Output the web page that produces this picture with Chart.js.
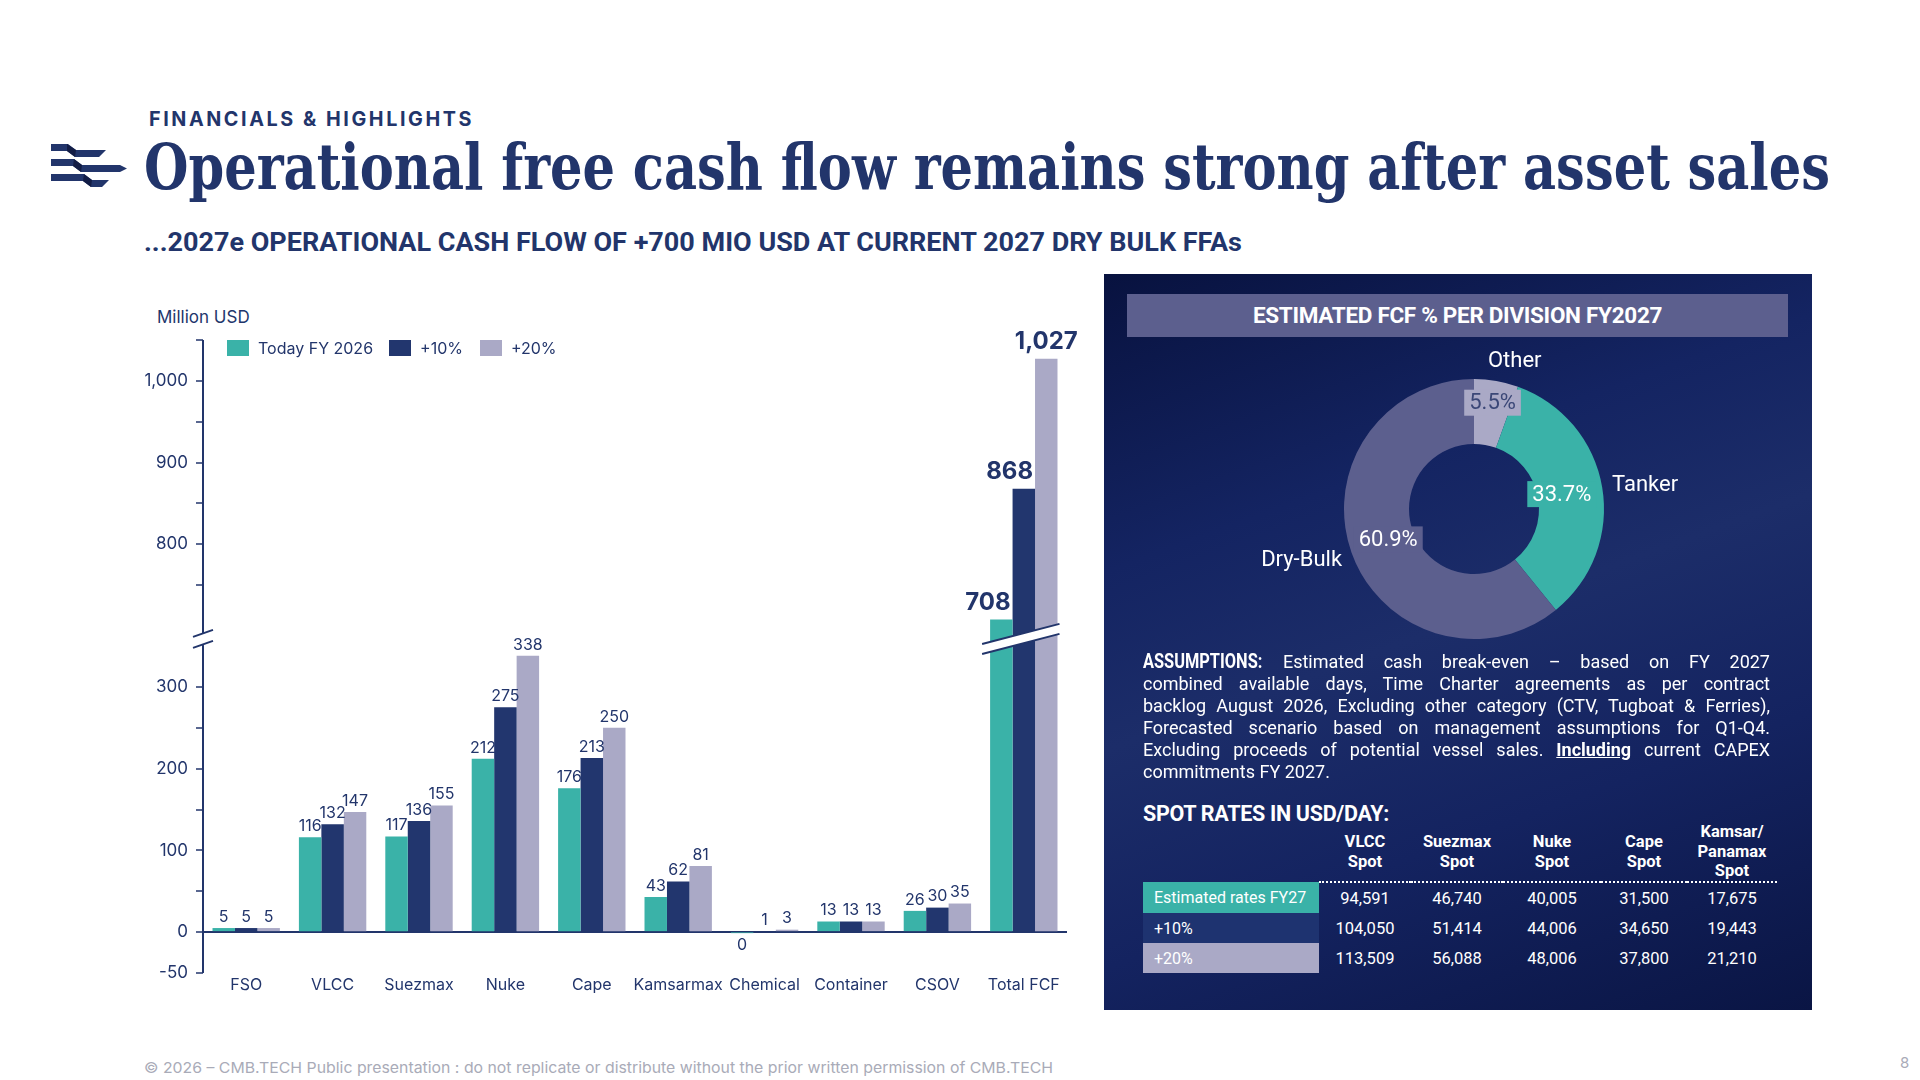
<!DOCTYPE html>
<html>
<head>
<meta charset="utf-8">
<title>Operational free cash flow remains strong after asset sales</title>
<script src="https://cdn.jsdelivr.net/npm/chart.js@4.4.1/dist/chart.umd.min.js"></script>
<style>
  html, body { margin: 0; padding: 0; }
  body { width: 1920px; height: 1080px; position: relative; overflow: hidden; background: #fff; color: #22356b; font-family: Inter, sans-serif; }
  .abs { position: absolute; white-space: nowrap; transform-origin: left top; }
  #kicker { left: 149px; top: 107px; font: 700 20px Inter; letter-spacing: 2.6px; line-height: 24px; }
  #title { left: 144px; top: 134px; font: 700 64px 'DejaVu Serif', serif; line-height: 66px; }
  #subtitle { left: 144px; top: 228px; font: 700 25px Roboto; line-height: 30px; }
  #unit { left: 157px; top: 306px; font: 400 17px Inter; line-height: 22px; }
  #legend { left: 227px; top: 339px; font: 400 16px Inter; line-height: 18px; display: flex; align-items: center; }
  #legend .sw { width: 22px; height: 16px; display: inline-block; margin-right: 9px; }
  #legend .it { display: flex; align-items: center; }
  #footer { left: 144px; top: 1058px; font: 400 15px Inter; color: #a9abb8; line-height: 20px; }
  #page { left: 1900px; top: 1053px; font: 400 15px Inter; color: #a9abb8; }
  #fcfChart { position: absolute; left: 130px; top: 300px; }
  #panel { position: absolute; left: 1104px; top: 274px; width: 708px; height: 736px;
    background: linear-gradient(160deg, #08123f 0%, #142462 30%, #1c2d69 48%, #142360 70%, #0a1544 100%); color: #fff; font-family: Roboto, sans-serif; }
  #panelHead { position: absolute; left: 23px; top: 20px; width: 661px; height: 43px; background: #5c5f8e;
    font: 700 22.5px Roboto; line-height: 43px; text-align: center; letter-spacing: -0.3px; }
  #divisionChart { position: absolute; left: 90px; top: 70px; }
  #assume { position: absolute; left: 39px; top: 377px; width: 627px; font: 400 18px Roboto; line-height: 22px; }
  #assume span { display: block; text-align: justify; text-align-last: justify; white-space: nowrap; }
  #assume span.last { text-align-last: left; }
  #assume .lead { font-weight: 700; font-size: 19.5px; display: inline-block; transform: scaleX(0.84); transform-origin: left center; margin-right: -22px; }
  #spotTitle { position: absolute; left: 39px; top: 527px; font: 700 21.5px Roboto; line-height: 26px; letter-spacing: -0.3px; }
  #spot { position: absolute; left: 39px; top: 548px; border-collapse: collapse; font: 400 16.5px Roboto; }
  #spot td, #spot th { padding: 0; text-align: center; }
  #spot th { font-weight: 700; font-size: 16.5px; line-height: 19.5px; vertical-align: middle; height: 59px; border-bottom: 2px dotted #fff; }
  #spot th.blank { border-bottom: none; }
  #spot td { height: 30px; }
  #spot td.lab { text-align: left; padding-left: 11px; width: 165px; font-size: 16px; }
</style>
</head>
<body>

<svg class="abs" style="left:50px;top:143px" width="80" height="46" viewBox="50 143 80 46">
  <polygon fill="#22356b" points="51,144 68,144 76,150 106,150 99,157 75,157 67,151 51,151"/>
  <polygon fill="#22356b" points="51,159 74,159 82,165 120,165 127,168.5 120,172 81,172 73,166 51,166"/>
  <polygon fill="#22356b" points="51,174 84,174 92,180 109,180 102,187 91,187 83,181 51,181"/>
  <polygon fill="#121c45" points="67,144 76,150 75,157 67,151"/>
  <polygon fill="#121c45" points="74,159 82,165 81,172 73,166"/>
  <polygon fill="#121c45" points="84,174 92,180 91,187 83,181"/>
</svg>

<div id="kicker" class="abs">FINANCIALS &amp; HIGHLIGHTS</div>
<div id="title" class="abs">Operational free cash flow remains strong after asset sales</div>
<div id="subtitle" class="abs">...2027e OPERATIONAL CASH FLOW OF +700 MIO USD AT CURRENT 2027 DRY BULK FFAs</div>

<div id="unit" class="abs">Million USD</div>
<canvas id="fcfChart" width="950" height="710"></canvas>
<div id="legend" class="abs"></div>

<div id="panel">
  <div id="panelHead">ESTIMATED FCF % PER DIVISION FY2027</div>
  <canvas id="divisionChart" width="560" height="330"></canvas>
  <div id="assume">
    <span><b class="lead">ASSUMPTIONS:</b> Estimated cash break-even – based on FY 2027</span>
    <span>combined available days, Time Charter agreements as per contract</span>
    <span>backlog August 2026, Excluding other category (CTV, Tugboat &amp; Ferries),</span>
    <span>Forecasted scenario based on management assumptions for Q1-Q4.</span>
    <span>Excluding proceeds of potential vessel sales. <b><u>Including</u></b> current CAPEX</span>
    <span class="last">commitments FY 2027.</span>
  </div>
  <div id="spotTitle">SPOT RATES IN USD/DAY:</div>
  <table id="spot"></table>
</div>

<div id="footer" class="abs">© 2026 – CMB.TECH Public presentation : do not replicate or distribute without the prior written permission of CMB.TECH</div>
<div id="page" class="abs">8</div>

<script>
// bar chart data (Million USD)
const categories = ['FSO', 'VLCC', 'Suezmax', 'Nuke', 'Cape', 'Kamsarmax', 'Chemical', 'Container', 'CSOV', 'Total FCF'];
const seriesNames = ['Today FY 2026', '+10%', '+20%'];
const todayFY2026 = [5, 116, 117, 212, 176, 43, -0.3, 13, 26, 708];
const plus10 = [5, 132, 136, 275, 213, 62, 1, 13, 30, 868];
const plus20 = [5, 147, 155, 338, 250, 81, 3, 13, 35, 1027];
const yTicks = [-50, 0, 50, 100, 150, 200, 250, 300, 750, 800, 850, 900, 950, 1000, 1050];
const yTickLabels = [-50, 0, 100, 200, 300, 800, 900, 1000];

// doughnut data (% of FCF FY2027)
const divisions = ['Other', 'Tanker', 'Dry-Bulk'];
const divisionShare = [5.5, 33.7, 60.9];

// spot rates table (USD/day)
const spotHeaders = [['VLCC', 'Spot'], ['Suezmax', 'Spot'], ['Nuke', 'Spot'], ['Cape', 'Spot'], ['Kamsar/', 'Panamax', 'Spot']];
const spotRowNames = ['Estimated rates FY27', '+10%', '+20%'];
const spotEstimated = [94591, 46740, 40005, 31500, 17675];
const spotPlus10 = [104050, 51414, 44006, 34650, 19443];
const spotPlus20 = [113509, 56088, 48006, 37800, 21210];

const NAVY = '#22356b';
const seriesColors = ['#3ab2a8', '#22366e', '#aaa9c6'];
const divisionColors = ['#aaa9c6', '#3ab2a8', '#5c5f8e'];

Chart.defaults.font.family = 'Inter';
Chart.defaults.color = NAVY;

// linear scale with a gap between brk.low and brk.high
class BrokenLinearScale extends Chart.LinearScale {
    _brk() {
        const b = this.options.brk;
        const lowSpan = b.low - this.min, highSpan = this.max - b.high;
        const unit = (this.bottom - this.top - b.gap) / (lowSpan + highSpan);
        return { b: b, unit: unit, pLow: this.bottom - lowSpan * unit, pHigh: this.top + highSpan * unit };
    }
    getPixelForValue(value) {
        if (value === null || value === undefined || isNaN(value)) return NaN;
        const k = this._brk();
        if (value <= k.b.low) return this.bottom - (value - this.min) * k.unit;
        if (value >= k.b.high) return this.top + (this.max - value) * k.unit;
        return k.pLow + (value - k.b.low) / (k.b.high - k.b.low) * (k.pHigh - k.pLow);
    }
    getValueForPixel(pixel) {
        const k = this._brk();
        if (pixel >= k.pLow) return this.min + (this.bottom - pixel) / k.unit;
        if (pixel <= k.pHigh) return this.max - (pixel - this.top) / k.unit;
        return k.b.low + (k.pLow - pixel) / (k.pLow - k.pHigh) * (k.b.high - k.b.low);
    }
}
BrokenLinearScale.id = 'brokenLinear';
BrokenLinearScale.defaults = Chart.LinearScale.defaults;
Chart.register(BrokenLinearScale);

function fmt(v) { return (Math.round(v) + 0).toLocaleString('en-US'); }

// axis line with break marks + white band across the Total FCF bars
const axisBreak = {
    id: 'axisBreak',
    afterDatasetsDraw(chart) {
        const ctx = chart.ctx, y = chart.scales.y, area = chart.chartArea;
        const brk = y.options.brk;
        const pHigh = y.getPixelForValue(brk.high), pLow = y.getPixelForValue(brk.low);
        const ax = area.left;
        ctx.save();
        ctx.strokeStyle = NAVY;
        ctx.lineWidth = 2;
        ctx.beginPath();
        ctx.moveTo(ax, area.top); ctx.lineTo(ax, pHigh);
        ctx.moveTo(ax, pLow); ctx.lineTo(ax, area.bottom);
        [pHigh, pLow].forEach(p => { ctx.moveTo(ax - 10, p + 3.5); ctx.lineTo(ax + 10, p - 3.5); });
        ctx.stroke();

        // band over last category
        const last = categories.length - 1;
        const first = chart.getDatasetMeta(0).data[last], end = chart.getDatasetMeta(2).data[last];
        const x0 = first.x - first.width / 2 - 8, x1 = end.x + end.width / 2 + 2;
        const xm = (x0 + x1) / 2, ym = (pHigh + pLow) / 2, slope = -0.26, half = 5;
        const yAt = (x, off) => ym + (x - xm) * slope + off;
        ctx.fillStyle = '#fff';
        ctx.beginPath();
        ctx.moveTo(x0, yAt(x0, -half)); ctx.lineTo(x1, yAt(x1, -half));
        ctx.lineTo(x1, yAt(x1, half)); ctx.lineTo(x0, yAt(x0, half));
        ctx.closePath();
        ctx.fill();
        ctx.beginPath();
        ctx.moveTo(x0, yAt(x0, -half)); ctx.lineTo(x1, yAt(x1, -half));
        ctx.moveTo(x0, yAt(x0, half)); ctx.lineTo(x1, yAt(x1, half));
        ctx.stroke();
        ctx.restore();
    }
};

const barValues = {
    id: 'barValues',
    afterDatasetsDraw(chart) {
        const ctx = chart.ctx;
        const last = categories.length - 1;
        ctx.save();
        ctx.fillStyle = NAVY;
        chart.data.datasets.forEach((ds, di) => {
            chart.getDatasetMeta(di).data.forEach((bar, i) => {
                const v = ds.data[i];
                if (i === last) {
                    // big totals: keep the first two clear of the taller neighbour bar
                    ctx.font = '700 24px Inter';
                    ctx.textBaseline = 'bottom';
                    if (di < 2) { ctx.textAlign = 'right'; ctx.fillText(fmt(v), bar.x + bar.width / 2 - 2, bar.y - 5); }
                    else { ctx.textAlign = 'center'; ctx.fillText(fmt(v), bar.x, bar.y - 5); }
                    return;
                }
                ctx.font = '400 16px Inter';
                ctx.textAlign = 'center';
                if (v < 0) { ctx.textBaseline = 'top'; ctx.fillText(fmt(v), bar.x, bar.y + 5); }
                else { ctx.textBaseline = 'bottom'; ctx.fillText(fmt(v), bar.x, bar.y - 3); }
            });
        });
        ctx.restore();
    }
};

new Chart(document.getElementById('fcfChart'), {
    type: 'bar',
    data: {
        labels: categories,
        datasets: [todayFY2026, plus10, plus20].map((d, i) => ({
            label: seriesNames[i], data: d, backgroundColor: seriesColors[i],
            categoryPercentage: 0.78, barPercentage: 1.0
        }))
    },
    options: {
        responsive: false,
        animation: false,
        layout: { padding: { top: 40, right: 13, left: 0, bottom: 0 } },
        plugins: { legend: { display: false }, tooltip: { enabled: false } },
        scales: {
            x: {
                grid: { display: false },
                border: { display: false },
                ticks: { color: NAVY, font: { size: 16 }, padding: -5, autoSkip: false, maxRotation: 0, minRotation: 0 },
                afterFit: s => { s.height = 37; }
            },
            y: {
                type: 'brokenLinear',
                min: -50, max: 1050,
                brk: { low: 352, high: 691, gap: 11 },
                afterBuildTicks: s => { s.ticks = yTicks.map(v => ({ value: v })); },
                afterFit: s => { s.width = 73; },
                border: { display: false },
                grid: {
                    drawTicks: true, tickLength: 7, tickWidth: 1.5, tickColor: NAVY,
                    color: c => (c.tick && c.tick.value === 0) ? NAVY : 'rgba(0,0,0,0)',
                    lineWidth: c => (c.tick && c.tick.value === 0) ? 2 : 0
                },
                ticks: {
                    color: NAVY, font: { size: 17 }, padding: 8, autoSkip: false,
                    callback: v => yTickLabels.includes(v) ? v.toLocaleString('en-US') : ''
                }
            }
        }
    },
    plugins: [axisBreak, barValues]
});

// legend
const legendEl = document.getElementById('legend');
seriesNames.forEach((n, i) => {
    const it = document.createElement('span');
    it.className = 'it';
    it.style.marginRight = i === 0 ? '16px' : '17px';
    it.innerHTML = '<span class="sw" style="background:' + seriesColors[i] + '"></span>' + n;
    legendEl.appendChild(it);
});

// doughnut labels: percentage boxes inside the ring, division names outside
const donutLabels = {
    id: 'donutLabels',
    afterDatasetsDraw(chart, args, opts) {
        const ctx = chart.ctx;
        const ds = chart.data.datasets[0];
        ctx.save();
        chart.getDatasetMeta(0).data.forEach((arc, i) => {
            const mid = (arc.startAngle + arc.endAngle) / 2;
            const cos = Math.cos(mid), sin = Math.sin(mid);
            const r = arc.innerRadius + (arc.outerRadius - arc.innerRadius) * opts.depth[i];
            const px = arc.x + cos * r, py = arc.y + sin * r;
            const txt = ds.data[i].toFixed(1) + '%';
            ctx.font = '400 22px Roboto';
            const w = ctx.measureText(txt).width + 10;
            ctx.fillStyle = ds.backgroundColor[i];
            ctx.fillRect(px - w / 2, py - 13, w, 26);
            ctx.fillStyle = i === 0 ? '#3b4777' : '#fff';
            ctx.textAlign = 'center';
            ctx.textBaseline = 'middle';
            ctx.fillText(txt, px, py + 1);

            ctx.fillStyle = '#fff';
            if (Math.abs(cos) < 0.3) {
                const ro = arc.outerRadius + 20;
                ctx.textAlign = 'center';
                ctx.fillText(chart.data.labels[i], arc.x + cos * ro + 15, arc.y + sin * ro);
            } else {
                const ro = arc.outerRadius + 10;
                ctx.textAlign = cos > 0 ? 'left' : 'right';
                ctx.fillText(chart.data.labels[i], arc.x + cos * ro, arc.y + sin * ro + (cos > 0 ? 0 : 5));
            }
        });
        ctx.restore();
    }
};

new Chart(document.getElementById('divisionChart'), {
    type: 'doughnut',
    data: {
        labels: divisions,
        datasets: [{ data: divisionShare, backgroundColor: divisionColors, borderWidth: 0 }]
    },
    options: {
        responsive: false,
        animation: false,
        cutout: '50%',
        layout: { padding: 35 },
        plugins: { legend: { display: false }, tooltip: { enabled: false }, donutLabels: { depth: [0.66, 0.37, 0.4] } }
    },
    plugins: [donutLabels]
});

// spot rates table
const spot = document.getElementById('spot');
const colW = [92, 92, 98, 86, 90];
let html = '<tr><th class="blank" style="width:176px"></th>';
spotHeaders.forEach((h, i) => { html += '<th style="width:' + colW[i] + 'px">' + h.join('<br>') + '</th>'; });
html += '</tr>';
const rowBg = ['#3ab2a8', '#1e3370', '#aaa9c6'];
[spotEstimated, spotPlus10, spotPlus20].forEach((row, r) => {
    html += '<tr><td class="lab" style="background:' + rowBg[r] + '">' + spotRowNames[r] + '</td>';
    row.forEach(v => { html += '<td>' + v.toLocaleString('en-US') + '</td>'; });
    html += '</tr>';
});
spot.innerHTML = html;

// stretch headline texts to the slide widths
function fitTo(id, width) {
    const el = document.getElementById(id);
    const w = el.getBoundingClientRect().width;
    el.style.transform = 'scaleX(' + (width / w) + ')';
}
fitTo('title', 1686);
fitTo('subtitle', 1098);
fitTo('kicker', 325);
fitTo('footer', 909);
</script>
</body>
</html>
